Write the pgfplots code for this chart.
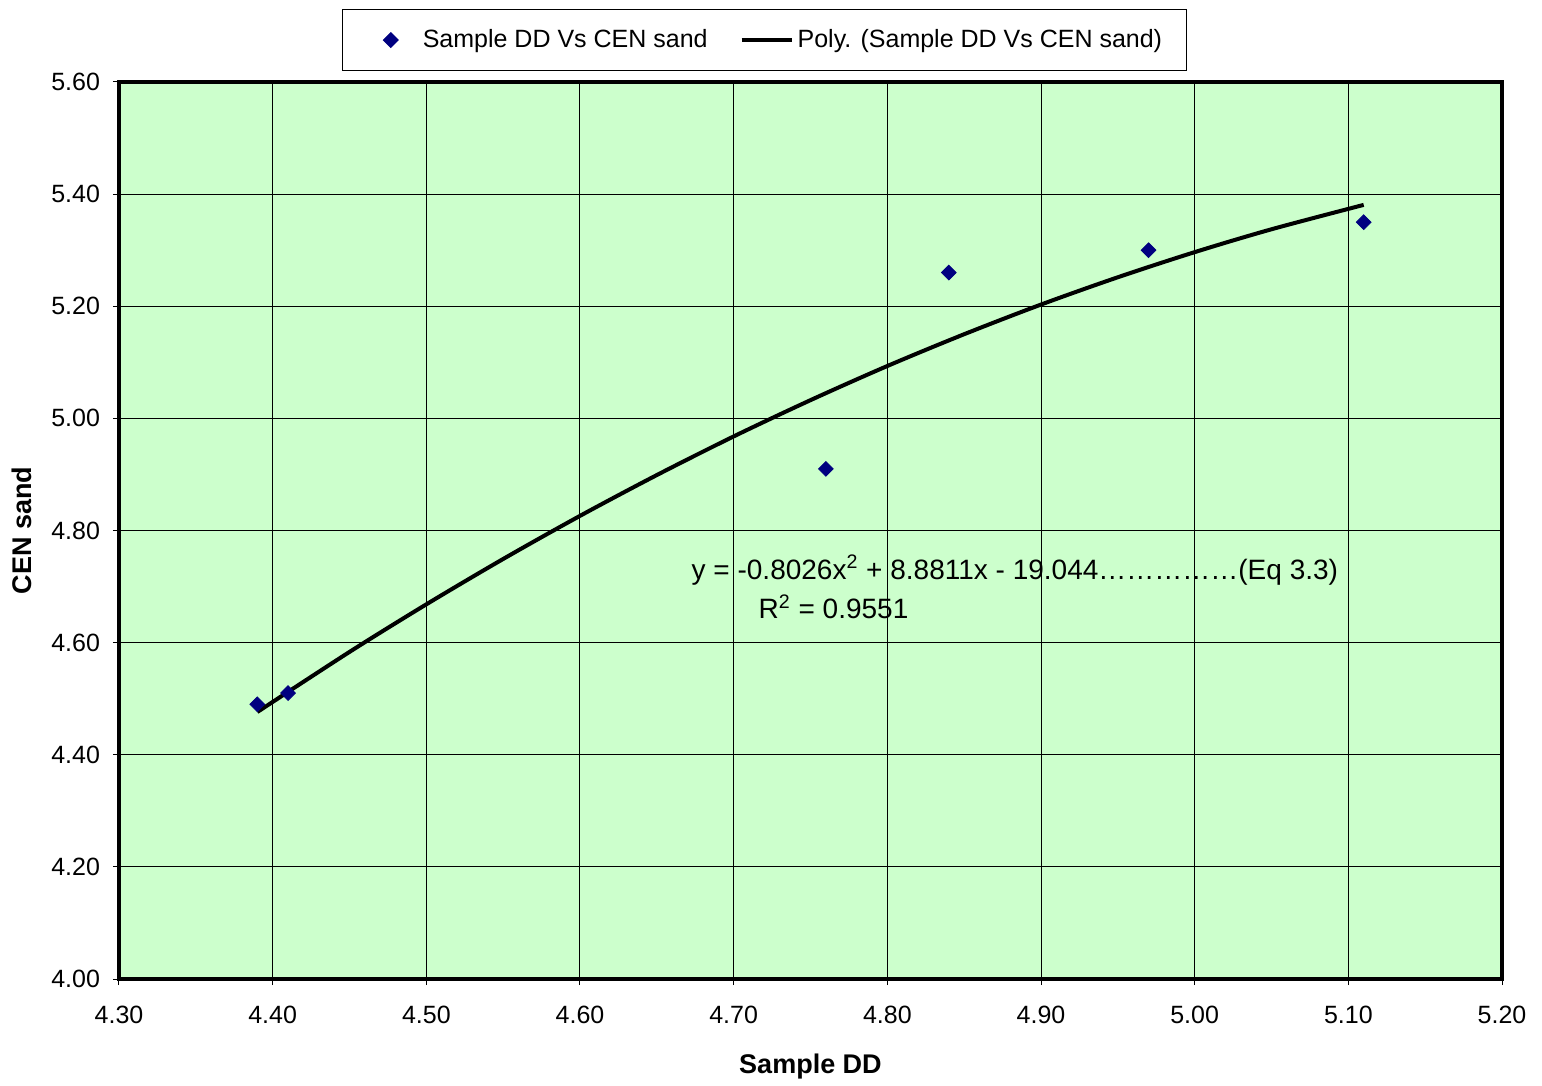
\documentclass[border=0pt]{standalone}
\usepackage{fontspec}
\setmainfont{Liberation Sans}
\usepackage{pgfplots}
\pgfplotsset{compat=1.18}
\definecolor{bggreen}{HTML}{CCFFCC}
\definecolor{navymark}{HTML}{000080}
\pgfplotsset{
  scatterleg/.style={legend image code/.code={\path[draw=none] (0pt,0pt) -- (28pt,0pt); \draw[##1, only marks] plot coordinates {(14pt,0pt)};}},
  lineleg/.style={legend image code/.code={\draw[##1] plot coordinates {(0pt,0pt) (25pt,0pt)};}},
}
\begin{document}
\begin{tikzpicture}
\begin{axis}[
  scale only axis,
  width=691.5pt, height=448.5pt,
  xmin=4.30, xmax=5.20, ymin=4.00, ymax=5.60,
  xtick={4.30,4.40,...,5.21}, ytick={4.00,4.20,...,5.61},
  xtick pos=left, ytick pos=left,
  tick align=outside, major tick length=3pt,
  tick style={black, line width=0.5pt},
  grid=major,
  major grid style={black, line width=0.5pt},
  axis line style={line width=1.6pt},
  axis background/.style={fill=bggreen},
  /pgf/number format/assume math mode=true,
  /pgf/number format/.cd, fixed, fixed zerofill, precision=2, /pgfplots/.cd,
  ticklabel style={font=\fontsize{12.5}{14}\selectfont},
  xticklabel style={yshift=-7pt},
  yticklabel style={xshift=-3pt},
  xlabel={\textbf{Sample DD}},
  ylabel={\textbf{CEN sand}},
  label style={font=\fontsize{13.5}{16}\selectfont},
  xlabel style={yshift=-8pt},
  ylabel style={yshift=3pt},
  legend columns=2,
  legend style={at={(axis description cs:0.4667,1.0814)}, anchor=north,
    draw=black, line width=0.5pt, font=\fontsize{12.5}{15}\selectfont,
    inner xsep=10pt, inner ysep=8pt,
    /tikz/every even column/.append style={column sep=14pt}},
  legend cell align=left,
]
\addplot[only marks, mark=square*, mark size=2.6pt, mark options={rotate=45, fill=navymark, draw=navymark}, scatterleg]
  coordinates {(4.39,4.49) (4.41,4.51) (4.76,4.91) (4.84,5.26) (4.97,5.30) (5.11,5.35)};
\addlegendentry{Sample DD Vs CEN sand}
\addplot[black, line width=2pt, smooth, no marks, lineleg]
  coordinates {(4.39,4.4762) (4.45,4.5834) (4.50,4.6683) (4.55,4.7492) (4.60,4.8261)
   (4.65,4.8989) (4.70,4.9678) (4.75,5.0325) (4.80,5.0934) (4.85,5.1501)
   (4.90,5.2030) (4.95,5.2517) (5.00,5.2965) (5.05,5.3373) (5.11,5.3808)};
\addlegendentry{Poly. (Sample DD Vs CEN sand)}
\node[font=\fontsize{14}{16}\selectfont] at (axis cs:4.883,4.7295)
  {y = -0.8026x\textsuperscript{2} + 8.8811x - 19.044……………(Eq 3.3)};
\node[font=\fontsize{14}{16}\selectfont] at (axis cs:4.765,4.6635)
  {R\textsuperscript{2} = 0.9551};
\end{axis}
\path (-59.5pt,-51pt) rectangle (711.5pt,489.5pt);
\end{tikzpicture}
\end{document}
